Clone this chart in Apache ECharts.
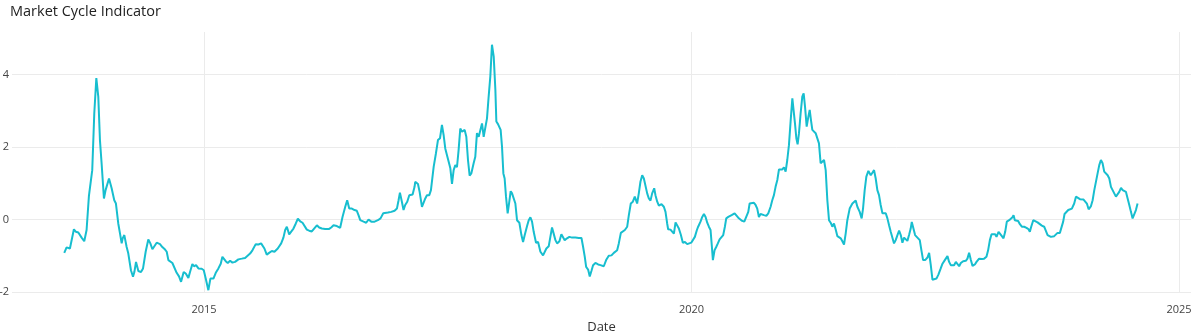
<!DOCTYPE html>
<html>
<head>
<meta charset="utf-8">
<title>Market Cycle Indicator</title>
<script src="https://cdn.jsdelivr.net/npm/echarts@6.0.0/dist/echarts.min.js"></script>
<style>
  html, body { margin: 0; padding: 0; background: #fff; }
  #chart { width: 1200px; height: 336px; }
</style>
</head>
<body>
<div id="chart"></div>
<script>
// dates as decimal years
var dates = [
  2013.566, 2013.590, 2013.607, 2013.624, 2013.665, 2013.686, 2013.710, 2013.744, 2013.771, 2013.795,
  2013.819, 2013.836, 2013.853, 2013.874, 2013.895, 2013.905, 2013.915, 2013.932, 2013.949, 2013.973,
  2013.990, 2014.025, 2014.052, 2014.079, 2014.096, 2014.120, 2014.138, 2014.155, 2014.165, 2014.182,
  2014.206, 2014.223, 2014.250, 2014.271, 2014.285, 2014.302, 2014.326, 2014.353, 2014.374, 2014.401,
  2014.428, 2014.449, 2014.470, 2014.490, 2014.514, 2014.548, 2014.572, 2014.600, 2014.617, 2014.634,
  2014.651, 2014.675, 2014.695, 2014.719, 2014.743, 2014.764, 2014.791, 2014.812, 2014.839, 2014.856,
  2014.880, 2014.897, 2014.918, 2014.942, 2014.976, 2014.997, 2015.017, 2015.044, 2015.065, 2015.079,
  2015.096, 2015.120, 2015.147, 2015.171, 2015.188, 2015.205, 2015.222, 2015.243, 2015.267, 2015.291,
  // 2015 - 2017
  2015.318, 2015.352, 2015.387, 2015.421, 2015.438, 2015.472, 2015.496, 2015.530, 2015.558, 2015.585,
  2015.619, 2015.643, 2015.667, 2015.695, 2015.722, 2015.756, 2015.791, 2015.814, 2015.832, 2015.849,
  2015.873, 2015.893, 2015.917, 2015.941, 2015.962, 2015.986, 2016.010, 2016.030, 2016.054, 2016.078,
  2016.105, 2016.129, 2016.157, 2016.181, 2016.208, 2016.242, 2016.283, 2016.304, 2016.328, 2016.362,
  2016.396, 2016.420, 2016.448, 2016.468, 2016.489, 2016.516, 2016.543, 2016.567, 2016.584, 2016.602,
  2016.636, 2016.663, 2016.687, 2016.715, 2016.749, 2016.783, 2016.810, 2016.838, 2016.858, 2016.886,
  2016.920, 2016.954, 2016.978, 2016.995, 2017.009, 2017.029, 2017.046, 2017.063, 2017.084, 2017.105,
  2017.125, 2017.139, 2017.159,
  // 2017 - 2019
  2017.166, 2017.194, 2017.211, 2017.235, 2017.252, 2017.269, 2017.286, 2017.310, 2017.327, 2017.355,
  2017.378, 2017.399, 2017.420, 2017.440, 2017.457, 2017.474, 2017.491, 2017.509, 2017.526, 2017.543,
  2017.560, 2017.577, 2017.594, 2017.611, 2017.628, 2017.645, 2017.663, 2017.673, 2017.690, 2017.707,
  2017.724, 2017.741, 2017.765, 2017.782, 2017.799, 2017.817, 2017.834, 2017.851, 2017.868, 2017.885,
  2017.902, 2017.919, 2017.936, 2017.953, 2017.971, 2017.988, 2017.998, 2018.015, 2018.029, 2018.042,
  2018.056, 2018.070, 2018.083, 2018.097, 2018.114, 2018.128, 2018.145, 2018.159, 2018.176, 2018.193,
  2018.210, 2018.234, 2018.255, 2018.272, 2018.289, 2018.313, 2018.330, 2018.347, 2018.364, 2018.381,
  2018.405, 2018.426, 2018.450, 2018.477, 2018.494, 2018.511, 2018.535, 2018.552, 2018.569, 2018.586,
  2018.604, 2018.621, 2018.645, 2018.665, 2018.682, 2018.699, 2018.723, 2018.747, 2018.775, 2018.809,
  2018.843, 2018.871, 2018.888, 2018.905, 2018.919, 2018.939, 2018.956, 2018.973, 2018.990,
  // 2019 - 2020
  2019.014, 2019.042, 2019.066, 2019.100, 2019.124, 2019.151, 2019.179, 2019.203, 2019.237, 2019.254,
  2019.275, 2019.295, 2019.316, 2019.340, 2019.357, 2019.377, 2019.398, 2019.418, 2019.442, 2019.459,
  2019.476, 2019.494, 2019.511, 2019.528, 2019.545, 2019.562, 2019.579, 2019.596, 2019.617, 2019.630,
  2019.648, 2019.665, 2019.692, 2019.716, 2019.733, 2019.750, 2019.760, 2019.784, 2019.802, 2019.819,
  2019.836, 2019.853, 2019.870, 2019.891, 2019.911, 2019.932, 2019.956, 2019.973, 2019.997, 2020.017,
  2020.034, 2020.055, 2020.068, 2020.092, 2020.110, 2020.127, 2020.144, 2020.161, 2020.178, 2020.195,
  2020.209, 2020.219, 2020.236, 2020.253, 2020.270, 2020.288, 2020.308, 2020.325, 2020.342, 2020.356,
  2020.377, 2020.394, 2020.411, 2020.424, 2020.442, 2020.459, 2020.479, 2020.497, 2020.520, 2020.541,
  2020.561, 2020.582, 2020.596, 2020.616, 2020.640, 2020.657, 2020.674, 2020.691, 2020.708, 2020.726,
  2020.743, 2020.767, 2020.787, 2020.811, 2020.828, 2020.845,
  // 2020 - 2022
  2020.862, 2020.880, 2020.897, 2020.914, 2020.931, 2020.948, 2020.965, 2020.982, 2020.999, 2021.016,
  2021.034, 2021.044, 2021.061, 2021.075, 2021.088, 2021.102, 2021.119, 2021.136, 2021.150, 2021.164,
  2021.181, 2021.198, 2021.212, 2021.225, 2021.239, 2021.256, 2021.273, 2021.290, 2021.307, 2021.324,
  2021.342, 2021.359, 2021.376, 2021.393, 2021.410, 2021.427, 2021.444, 2021.461, 2021.478, 2021.496,
  2021.513, 2021.530, 2021.547, 2021.564, 2021.581, 2021.598, 2021.622, 2021.650, 2021.667, 2021.684,
  2021.701, 2021.725, 2021.745, 2021.759, 2021.776, 2021.793, 2021.814, 2021.838, 2021.855, 2021.872,
  2021.889, 2021.906, 2021.923, 2021.940, 2021.958, 2021.975, 2021.992, 2022.009, 2022.026, 2022.043,
  2022.060, 2022.077, 2022.094, 2022.112, 2022.129, 2022.146, 2022.163, 2022.180, 2022.197, 2022.214,
  2022.231, 2022.248, 2022.259, 2022.276, 2022.293, 2022.317, 2022.341, 2022.358, 2022.375, 2022.396,
  2022.420, 2022.437, 2022.454, 2022.471, 2022.488, 2022.512, 2022.532, 2022.556, 2022.574, 2022.598,
  2022.625, 2022.642, 2022.659, 2022.676, 2022.693,
  // 2022 - 2024
  2022.711, 2022.728, 2022.745, 2022.762, 2022.786, 2022.813, 2022.830, 2022.847, 2022.865, 2022.882,
  2022.906, 2022.923, 2022.950, 2022.977, 2023.001, 2023.025, 2023.042, 2023.060, 2023.077, 2023.094,
  2023.114, 2023.128, 2023.149, 2023.166, 2023.183, 2023.200, 2023.217, 2023.234, 2023.258, 2023.275,
  2023.292, 2023.303, 2023.316, 2023.333, 2023.350, 2023.368, 2023.388, 2023.412, 2023.436, 2023.457,
  2023.470, 2023.484, 2023.505, 2023.525, 2023.549, 2023.566, 2023.593, 2023.617, 2023.634, 2023.652,
  2023.669, 2023.686, 2023.703, 2023.720, 2023.737, 2023.754, 2023.778, 2023.795, 2023.812, 2023.826,
  2023.840, 2023.864, 2023.881, 2023.901, 2023.925, 2023.943, 2023.960, 2023.984, 2024.004, 2024.021,
  2024.038, 2024.055, 2024.073, 2024.097, 2024.114, 2024.131, 2024.148, 2024.165, 2024.182, 2024.199,
  2024.216, 2024.233, 2024.251, 2024.268, 2024.285, 2024.302, 2024.319, 2024.336, 2024.353, 2024.370,
  2024.387, 2024.405, 2024.422, 2024.439, 2024.456, 2024.473, 2024.490, 2024.507, 2024.524, 2024.541,
  2024.558, 2024.575
];

var values = [
  -0.92, -0.77, -0.82, -0.80, -0.27, -0.34, -0.36, -0.50, -0.60, -0.29,
  0.65, 0.70, 1.36, 2.93, 3.90, 3.94, 3.39, 2.19, 1.55, 0.58,
  0.81, 1.13, 0.86, 0.53, 0.44, -0.11, -0.39, -0.66, -0.52, -0.43,
  -0.76, -0.94, -1.40, -1.58, -1.45, -1.17, -1.42, -1.45, -1.35, -0.89,
  -0.55, -0.66, -0.82, -0.80, -0.64, -0.68, -0.76, -0.83, -0.89, -1.12,
  -1.10, -1.20, -1.23, -1.47, -1.57, -1.72, -1.45, -1.49, -1.61, -1.45,
  -1.23, -1.29, -1.26, -1.35, -1.36, -1.40, -1.63, -1.95, -1.63, -1.58,
  -1.63, -1.47, -1.35, -1.22, -1.03, -1.08, -1.15, -1.20, -1.14, -1.19,
  // 2015 - 2017
  -1.17, -1.10, -1.08, -1.06, -1.10, -0.94, -0.85, -0.68, -0.69, -0.66,
  -0.80, -0.97, -0.92, -0.87, -0.89, -0.80, -0.66, -0.50, -0.29, -0.20,
  -0.41, -0.41, -0.25, -0.11, 0.02, -0.05, -0.09, -0.07, -0.28, -0.31,
  -0.33, -0.25, -0.16, -0.22, -0.25, -0.26, -0.26, -0.22, -0.16, -0.18,
  -0.23, 0.07, 0.35, 0.53, 0.30, 0.30, 0.26, 0.24, 0.12, -0.02,
  -0.06, -0.09, 0.00, -0.06, -0.06, -0.02, 0.03, 0.17, 0.17, 0.19,
  0.21, 0.24, 0.30, 0.53, 0.74, 0.49, 0.26, 0.40, 0.49, 0.67,
  0.63, 0.69, 0.90,
  // 2017 - 2019
  1.04, 0.98, 0.76, 0.35, 0.30, 0.58, 0.67, 0.67, 0.81, 1.45,
  1.82, 2.19, 2.24, 2.61, 2.33, 1.96, 1.78, 1.59, 1.41, 0.98,
  1.36, 1.50, 1.44, 1.92, 2.51, 2.42, 2.38, 2.47, 2.28, 1.64,
  1.21, 1.27, 1.55, 1.73, 2.38, 2.28, 2.24, 2.65, 2.28, 2.30,
  2.79, 3.39, 3.94, 4.82, 4.49, 3.57, 2.70, 2.63, 2.65, 2.47,
  2.01, 1.27, 1.13, 0.63, 0.17, 0.44, 0.78, 0.72, 0.75, 0.44,
  -0.02, -0.09, -0.43, -0.62, -0.43, -0.18, -0.02, 0.06, -0.06, -0.34,
  -0.64, -0.62, -0.89, -0.99, -0.94, -0.80, -0.74, -0.48, -0.22, -0.39,
  -0.57, -0.66, -0.60, -0.41, -0.46, -0.57, -0.52, -0.48, -0.50, -0.50,
  -0.51, -0.51, -0.76, -1.03, -1.31, -1.38, -1.57, -1.42, -1.26,
  // 2019 - 2020
  -1.20, -1.24, -1.26, -1.29, -1.12, -1.00, -0.99, -0.92, -0.85, -0.66,
  -0.37, -0.32, -0.29, -0.20, 0.12, 0.44, 0.49, 0.63, 0.44, 0.72,
  1.04, 1.22, 1.13, 1.10, 0.72, 0.58, 0.52, 0.72, 0.86, 0.67,
  0.49, 0.38, 0.42, 0.35, 0.21, -0.11, -0.27, -0.28, -0.31, -0.39,
  -0.08, -0.11, -0.25, -0.43, -0.64, -0.62, -0.68, -0.71, -0.64, -0.62,
  -0.48, -0.29, -0.20, -0.06, 0.07, 0.15, 0.07, -0.09, -0.20, -0.29,
  -0.76, -1.12, -0.85, -0.76, -0.66, -0.55, -0.52, -0.43, -0.20, 0.03,
  0.07, 0.03, 0.12, 0.07, 0.17, 0.12, 0.05, 0.00, -0.04, -0.06,
  -0.05, 0.21, 0.44, 0.49, 0.46, 0.40, 0.30, 0.07, 0.15, 0.17,
  0.12, 0.10, 0.17, 0.35, 0.53, 0.67,
  // 2020 - 2022
  0.90, 1.09, 1.38, 1.41, 1.38, 1.44, 1.32, 1.64, 2.05, 2.70,
  3.34, 3.30, 2.65, 2.24, 2.07, 2.38, 2.93, 3.39, 3.48, 3.11,
  2.56, 2.83, 3.02, 2.74, 2.47, 2.49, 2.38, 2.36, 2.10, 1.55,
  1.59, 1.64, 1.36, 0.53, -0.02, -0.09, -0.20, -0.11, -0.27, -0.46,
  -0.43, -0.52, -0.60, -0.69, -0.39, -0.02, 0.30, 0.44, 0.49, 0.52,
  0.35, 0.21, 0.03, 0.30, 0.81, 1.18, 1.34, 1.22, 1.29, 1.36,
  1.13, 0.81, 0.67, 0.40, 0.17, 0.12, 0.17, 0.03, -0.16, -0.34,
  -0.34, -0.66, -0.57, -0.43, -0.31, -0.43, -0.64, -0.50, -0.52, -0.59,
  -0.43, -0.25, -0.07, -0.25, -0.43, -0.50, -0.57, -0.85, -1.12, -1.12,
  -1.05, -0.92, -1.26, -1.66, -1.63, -1.63, -1.52, -1.35, -1.22, -1.12,
  -1.01, -1.17, -1.26, -1.31, -1.26,
  // 2022 - 2024
  -1.17, -1.22, -1.29, -1.20, -1.15, -1.14, -1.08, -0.92, -1.12, -1.28,
  -1.24, -1.17, -1.08, -1.09, -1.08, -1.03, -0.85, -0.57, -0.41, -0.39,
  -0.41, -0.48, -0.34, -0.37, -0.46, -0.52, -0.34, -0.06, -0.02, 0.03,
  0.06, 0.12, -0.02, 0.01, -0.04, -0.13, -0.20, -0.20, -0.23, -0.27,
  -0.34, -0.20, -0.02, -0.04, -0.08, -0.11, -0.17, -0.20, -0.23, -0.43,
  -0.46, -0.48, -0.50, -0.46, -0.43, -0.37, -0.37, -0.34, -0.06, 0.15,
  0.18, 0.26, 0.28, 0.30, 0.44, 0.63, 0.58, 0.56, 0.58, 0.55,
  0.58, 0.44, 0.28, 0.37, 0.53, 0.81, 0.86, 1.27, 1.50, 1.64,
  1.55, 1.32, 1.36, 1.22, 1.13, 0.90, 0.86, 0.72, 0.63, 0.61,
  0.76, 0.87, 0.81, 0.79, 0.76, 0.58, 0.40, 0.21, 0.03, -0.02,
  0.26, 0.44
];

var xTickYears = [2015, 2020, 2025];
var yTicks = [-2, 0, 2, 4];

var seriesData = [];
for (var i = 0; i < dates.length; i++) {
  seriesData.push([dates[i], values[i]]);
}

var chart = echarts.init(document.getElementById('chart'), null, { renderer: 'canvas' });

var option = {
  backgroundColor: '#ffffff',
  animation: false,
  title: {
    text: 'Market Cycle Indicator',
    left: 5,
    top: -1,
    textStyle: { fontFamily: 'Open Sans', fontSize: 14.5, fontWeight: 'normal', color: '#222' }
  },
  grid: { left: 12, right: 9, top: 32, bottom: 44, outerBoundsMode: 'none', containLabel: false },
  xAxis: {
    type: 'value',
    min: 2013.03,
    max: 2025.123,
    name: 'Date',
    nameLocation: 'middle',
    nameGap: 29,
    nameTextStyle: { fontFamily: 'Open Sans', fontSize: 13, color: '#333' },
    axisLine: { show: false },
    axisTick: { show: false, customValues: xTickYears },
    axisLabel: {
      customValues: xTickYears,
      formatter: function (v) { return String(Math.round(v)); },
      fontFamily: 'Open Sans', fontSize: 11, color: '#444', margin: 12
    },
    splitLine: { show: true, lineStyle: { color: '#ebebeb', width: 1 } }
  },
  yAxis: {
    type: 'value',
    min: -2,
    max: 5.17,
    interval: 2,
    axisLine: { show: false },
    axisTick: { show: false },
    axisLabel: {
      fontFamily: 'Open Sans', fontSize: 11, color: '#444', margin: 3,
      showMaxLabel: false,
      formatter: function (v) { return yTicks.indexOf(v) >= 0 ? String(v) : ''; }
    },
    splitLine: { show: true, showMaxLine: false, lineStyle: { color: '#ebebeb', width: 1 } }
  },
  series: [{
    name: 'Market Cycle Indicator',
    type: 'line',
    data: seriesData,
    showSymbol: false,
    lineStyle: { color: '#17becf', width: 2 },
    itemStyle: { color: '#17becf' }
  }]
};

chart.setOption(option);
</script>
</body>
</html>
